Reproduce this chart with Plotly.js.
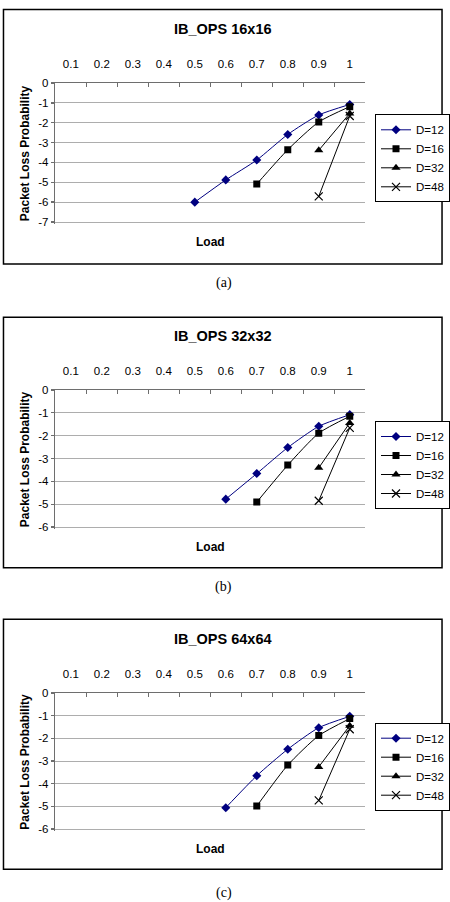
<!DOCTYPE html>
<html>
<head>
<meta charset="utf-8">
<script src="https://cdn.plot.ly/plotly-3.0.1.min.js"></script>
<style>html,body{margin:0;padding:0;background:#fff;}#chart{width:450px;height:902px;}</style>
</head>
<body>
<div id="chart"></div>
<script>
// ---- data ----
const loadCategories = ['0.1','0.2','0.3','0.4','0.5','0.6','0.7','0.8','0.9','1'];
const panelTitles = ['IB_OPS 16x16', 'IB_OPS 32x32', 'IB_OPS 64x64'];
const panelCaptions = ['(a)', '(b)', '(c)'];
const seriesNames = ['D=12', 'D=16', 'D=32', 'D=48'];
const yTickValsA = [0, -1, -2, -3, -4, -5, -6, -7];
const yTickTextA = ['0', '-1', '-2', '-3', '-4', '-5', '-6', '-7'];
const yTickValsBC = [0, -1, -2, -3, -4, -5, -6];
const yTickTextBC = ['0', '-1', '-2', '-3', '-4', '-5', '-6'];

const loadA_D12 = ['0.5','0.6','0.7','0.8','0.9','1'];
const loadBC_D12 = ['0.6','0.7','0.8','0.9','1'];
const load_D16 = ['0.7','0.8','0.9','1'];
const load_D32 = ['0.9','1'];
const load_D48 = ['0.9','1'];

const a_D12 = [-6.00, -4.88, -3.88, -2.59, -1.61, -1.08];
const a_D16 = [-5.09, -3.36, -1.96, -1.19];
const a_D32 = [-3.39, -1.53];
const a_D48 = [-5.71, -1.66];

const b_D12 = [-4.78, -3.66, -2.52, -1.59, -1.08];
const b_D16 = [-4.91, -3.29, -1.89, -1.15];
const b_D32 = [-3.41, -1.44];
const b_D48 = [-4.85, -1.66];

const c_D12 = [-5.06, -3.65, -2.48, -1.53, -1.03];
const c_D16 = [-4.99, -3.18, -1.88, -1.13];
const c_D32 = [-3.26, -1.44];
const c_D48 = [-4.74, -1.60];

// ---- figure ----
const W = 450, H = 902;
const FONT = '"Liberation Sans", Arial, sans-serif';
const px = x => x / W;
const py = y => 1 - y / H;

// plotBot includes a small 2px pad below the lowest gridline so Plotly draws that gridline
const PAD_PX = 2;
const geo = [
  {boxTop: 9.5, boxBot: 264, plotTop: 83, plotBot: 222, titleY: 28.5, loadY: 242.5, legTop: 114.3, capY: 283},
  {boxTop: 317.3, boxBot: 567.7, plotTop: 390, plotBot: 527, titleY: 336, loadY: 546.7, legTop: 421, capY: 586.7},
  {boxTop: 619.3, boxBot: 869.3, plotTop: 693, plotBot: 829, titleY: 639.3, loadY: 848.7, legTop: 722.7, capY: 892.7}
];
const plotLeft = 55.7, plotRight = 367.7;
const yTicks = [[yTickValsA, yTickTextA], [yTickValsBC, yTickTextBC], [yTickValsBC, yTickTextBC]];

const panelData = [
  [[loadA_D12, a_D12], [load_D16, a_D16], [load_D32, a_D32], [load_D48, a_D48]],
  [[loadBC_D12, b_D12], [load_D16, b_D16], [load_D32, b_D32], [load_D48, b_D48]],
  [[loadBC_D12, c_D12], [load_D16, c_D16], [load_D32, c_D32], [load_D48, c_D48]]
];

const styles = [
  {color: '#000080', symbol: 'diamond', size: 7},
  {color: '#000000', symbol: 'square', size: 7},
  {color: '#000000', symbol: 'triangle-up', size: 8},
  {color: '#000000', symbol: 'x-thin', size: 8}
];

const AXIS_COLOR = '#6e6e6e';
const GRID_COLOR = '#adadad';
const traces = [];
const layout = {
  width: W, height: H,
  margin: {l: 0, r: 0, t: 0, b: 0},
  paper_bgcolor: '#fff', plot_bgcolor: '#fff',
  font: {family: FONT, size: 11.5, color: '#000'},
  showlegend: true,
  shapes: [], annotations: []
};

panelData.forEach((series, p) => {
  const g = geo[p];
  const sfx = p === 0 ? '' : String(p + 1);
  const legName = 'legend' + sfx;
  const tv = yTicks[p][0];
  const yMin = tv[tv.length - 1];
  const pxPerUnit = (g.plotBot - g.plotTop) / (0 - yMin);
  series.forEach((s, i) => {
    const st = styles[i];
    const marker = {color: st.color, symbol: st.symbol, size: st.size};
    if (st.symbol === 'x-thin') marker.line = {color: st.color, width: 1.2};
    traces.push({
      type: 'scatter', mode: 'lines+markers',
      x: s[0], y: s[1], name: seriesNames[i],
      xaxis: 'x' + sfx, yaxis: 'y' + sfx, legend: legName,
      line: {color: st.color, width: 1, shape: 'spline', smoothing: 0.6},
      marker: marker
    });
  });
  layout['xaxis' + sfx] = {
    domain: [px(plotLeft), px(plotRight)],
    anchor: 'y' + sfx, side: 'top',
    type: 'category', categoryorder: 'array', categoryarray: loadCategories,
    range: [-0.5, 9.5], tickvals: loadCategories, ticktext: loadCategories,
    tickson: 'boundaries', ticks: 'inside', ticklen: 4, tickcolor: AXIS_COLOR, tickwidth: 1.3,
    showline: true, linecolor: AXIS_COLOR, linewidth: 1.5,
    showgrid: false, zeroline: false, fixedrange: true,
    tickfont: {family: FONT, size: 11.5}, ticklabelstandoff: 9
  };
  layout['yaxis' + sfx] = {
    domain: [py(g.plotBot + PAD_PX), py(g.plotTop)],
    anchor: 'x' + sfx,
    range: [yMin - PAD_PX / pxPerUnit, 0], tickvals: tv, ticktext: yTicks[p][1],
    ticks: 'outside', ticklen: 3, tickcolor: AXIS_COLOR, tickwidth: 1.3,
    showline: true, linecolor: AXIS_COLOR, linewidth: 1.5,
    showgrid: true, gridcolor: GRID_COLOR, gridwidth: 1, zeroline: false,
    fixedrange: true, tickfont: {family: FONT, size: 11.5},
    title: {text: '<b>Packet Loss Probability</b>', font: {family: FONT, size: 12}, standoff: 6}
  };
  layout[legName] = {
    x: px(377.7), xanchor: 'left', y: py(g.legTop), yanchor: 'top',
    bgcolor: '#fff', bordercolor: '#000', borderwidth: 1,
    font: {family: FONT, size: 11.5}, itemwidth: 30, tracegroupgap: 0
  };
  layout.shapes.push({
    type: 'rect', xref: 'paper', yref: 'paper',
    x0: px(3.5), x1: px(445), y0: py(g.boxBot), y1: py(g.boxTop),
    line: {color: '#000', width: 1.5}, fillcolor: 'rgba(0,0,0,0)'
  });
  layout.annotations.push({
    xref: 'paper', yref: 'paper', x: px(224.8), y: py(g.titleY),
    xanchor: 'center', yanchor: 'middle', showarrow: false,
    text: '<b>' + panelTitles[p] + '</b>', font: {family: FONT, size: 14.5}
  });
  layout.annotations.push({
    xref: 'paper', yref: 'paper', x: px(211.7), y: py(g.loadY),
    xanchor: 'center', yanchor: 'middle', showarrow: false,
    text: '<b>Load</b>', font: {family: FONT, size: 12}
  });
  layout.annotations.push({
    xref: 'paper', yref: 'paper', x: px(225), y: py(g.capY),
    xanchor: 'center', yanchor: 'middle', showarrow: false,
    text: panelCaptions[p], font: {family: '"Liberation Serif", "Times New Roman", serif', size: 14}
  });
});

Plotly.newPlot('chart', traces, layout, {displayModeBar: false, staticPlot: true});
</script>
</body>
</html>
